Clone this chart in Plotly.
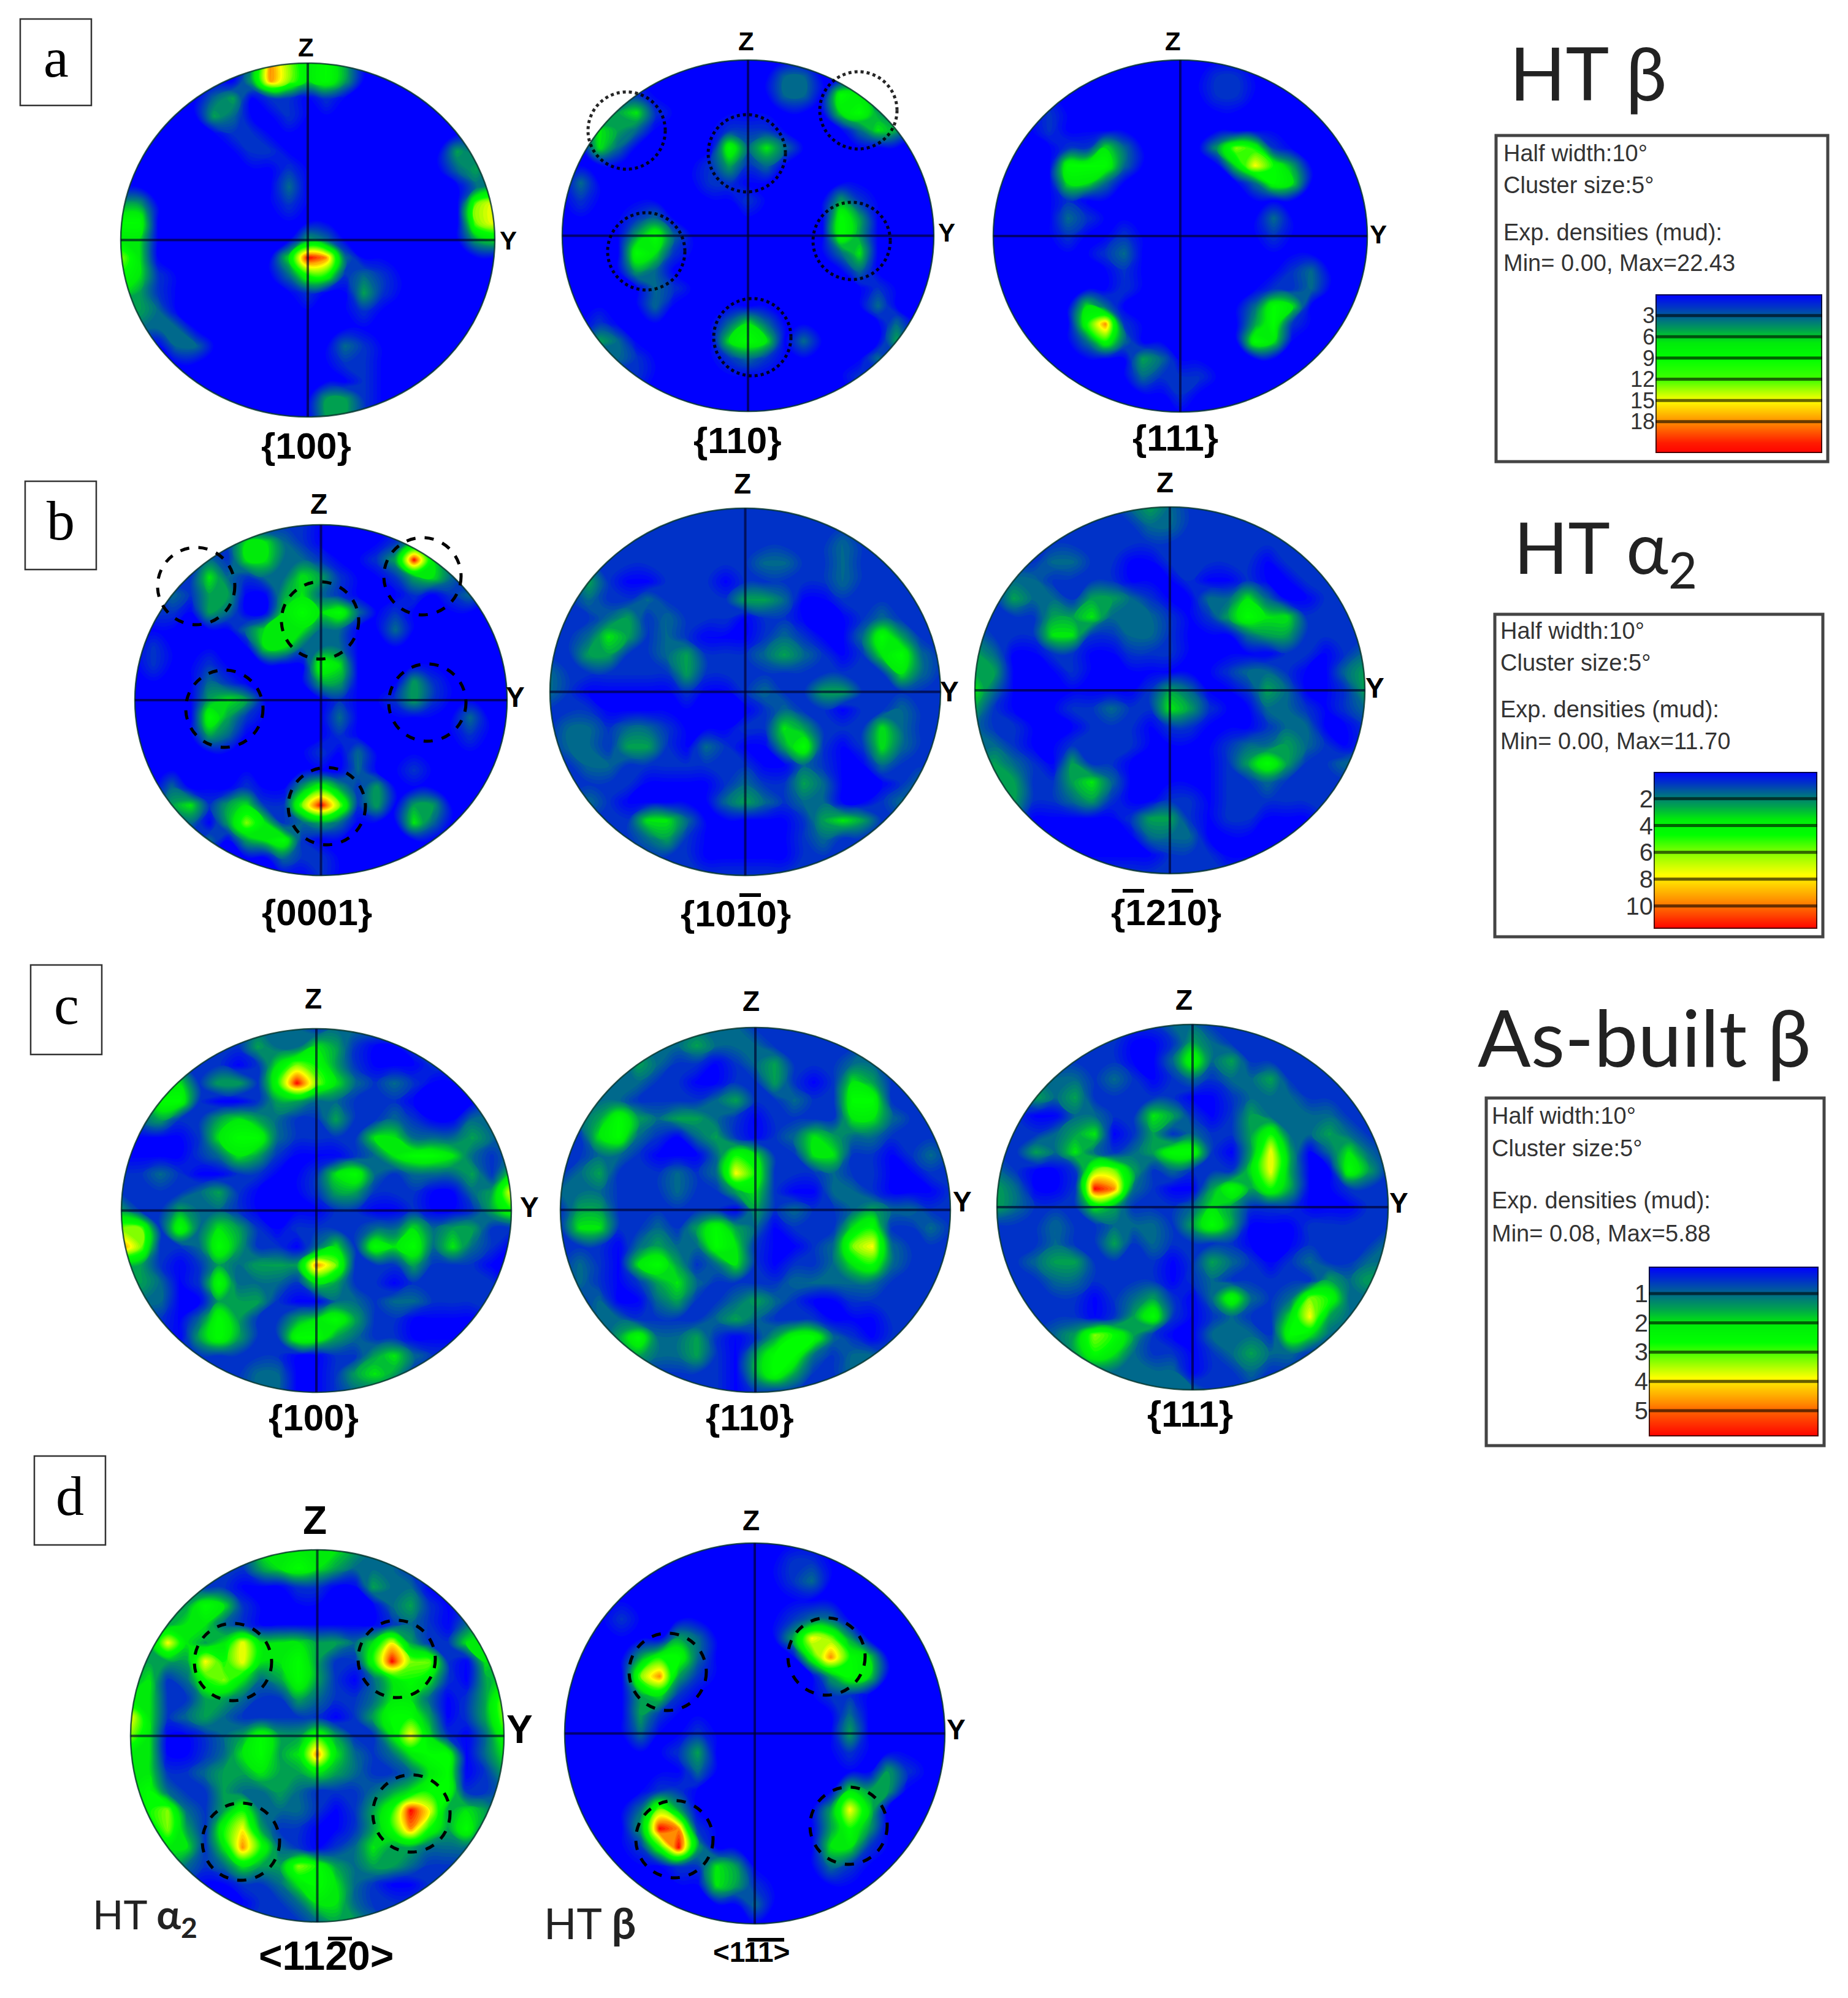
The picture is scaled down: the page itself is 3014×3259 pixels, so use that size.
import math

import plotly.graph_objects as go

# pole figure densities, one digit per grid node,
# on the colour level scale 0 (blue) .. 9 (red), top row first
HT_BETA_100 = [
    "000000028645300000000", "000000038645300000000", "000002301101000000000",
    "000003200100000000000", "000000110000000000000", "000000011000000000320",
    "000000000100000000231", "000000000200000000023", "330000000100000000067",
    "550000000000000000067", "440000000032000000034", "640000000498200000000",
    "541000000255121000000", "431000000010031000000", "032000000000010000000",
    "022200000000000000000", "000220000000210000000", "000000000000110000000",
    "000000000000010000000", "000000000003310000000", "000000000003310000000",
]
HT_BETA_110 = [
    "000000000000000000000", "000000000000220000000", "000010000000220540000",
    "000341000000000453000", "004320000111000024300", "004200000524200000000",
    "000000001312000000000", "020000001100000000000", "010000000010000310000",
    "000012000000000530000", "000035200000000530000", "000054100000000240000",
    "000032000000000020000", "000002100000000001000", "000002000000000002000",
    "001000000242000000200", "003200000454020000300", "000210000121000002000",
    "000010000000000010000", "000000000000000000000", "000000000000000000000",
]
HT_BETA_111 = [
    "000000000000000000000", "000000000000110000000", "000000000000110000000",
    "000100000000000000000", "000100000000000000000", "000011420000365100000",
    "000055520000047530000", "000044200000002540000", "000010000000000000000",
    "000021000000000200000", "000010010000000100000", "000000120000000000000",
    "000000010000000012000", "000000010000000112000", "000004200000002540000",
    "000005810000003510000", "000002520000005400000", "000000003200000000000",
    "000000002111000000000", "000000000010000000000", "000000000000000000000",
]
HT_A2_0001 = [
    "000000001100000000000", "000001442100001310000", "000021442210013941000",
    "000142122431001342000", "002133003421000101200", "011032004545201000000",
    "000000244422002000000", "010000044222000000000", "010010000054000000000",
    "000021000033000310000", "000034300001001310000", "000053100002000000200",
    "000032000001000000100", "000000000010200000000", "000000000000200100000",
    "002000100353130000000", "003413411696130330000", "000203641232000420000",
    "000020345100000000000", "000000002110000000000", "000000000010000000000",
]
HT_A2_1010 = [
    "111111111111111111111", "111111111111111111111", "111111111111111211111",
    "111111111112211211111", "113100111011111211111", "112112111133200111111",
    "111231211101100012111", "112431210001210025311", "113311231112321014521",
    "211111131111111111421", "210000010012113311111", "111000000001211011211",
    "122122100011431114211", "122133102100351014211", "112211111110021002111",
    "111110000121132000121", "112100000232122001211", "111114420000013431111",
    "111112310000012111111", "111111110000011111111", "111111111111111111111",
]
HT_A2_1210 = [
    "111111112321111111111", "111111111221111111111", "111111111111111111111",
    "111122110011111011111", "112211110001001001111", "113221332100224200111",
    "111133422210135441111", "211144112210002331111", "320011001110000011012",
    "330001000000012210023", "420000000132001320013", "310001121143100221012",
    "211000111011000122001", "221001111000012232101", "232103110000013531122",
    "133113420000011211111", "123112310011011111111", "112000001331011000111",
    "111000000222000000111", "111100000011100000111", "111111111111111111111",
]
BUILT_BETA_100 = [
    "111111122212222111111", "111111132243100111111", "111111014653100011111",
    "112413315964212100111", "125510013322111000011", "123113432113112100221",
    "000014552111144222321", "000012431000124554212", "112100110014521222314",
    "111123100013311100237", "311322100001100100135", "661524310111122423311",
    "861125311024154524210", "331013233386111311100", "132015222143110111110",
    "122003331002212211111", "111025311345311000011", "111035311553211000011",
    "111111111001134211111", "111111122001343111111", "111111122001221111111",
]
BUILT_BETA_110 = [
    "111111222211111111111", "111122232221111121111", "111132110123111221111",
    "111221100113101431111", "112211112311211551111", "123532332101111442111",
    "114521023101243221111", "112210002541144110121", "123111212751112110011",
    "222111211341002210001", "133111111031211232211", "144112135320111451121",
    "111023225410012672111", "121045312410112452111", "121013421111222221111",
    "112002311232100111111", "112211112321110001111", "111352231013552101111",
    "111132231035521221111", "111111111035311211111", "111111111011111111111",
]
BUILT_BETA_111 = [
    "111111111221111111111", "111111100132111111111", "111111100252311111111",
    "112221210121223111111", "113231111100122211111", "110022114310132222111",
    "111234013121135223211", "113242123551037302421", "210016631211147300531",
    "320019821003535300111", "321114311124311100011", "111211222135300011111",
    "111211312111100011112", "112331111013210121122", "111221111012111113233",
    "111110123102521265221", "111110135101211473211", "111236531002221542111",
    "111135421101232211111", "111122222201121111111", "111111122221111111111",
]
HT_A2_1120 = [
    "333332144444322222222", "222221134543222111111", "222211000110032200111",
    "222354100000002310122", "223442100000001210232", "237434744433247311442",
    "233375744531159661043", "341256423531024541034", "441133211321124420136",
    "741232111110135530136", "640012353353114741025", "440012453484212455024",
    "441123343343211245013", "452113223211123455112", "256213522210135973431",
    "246315731100135853521", "134414852101243322211", "123212433653233211111",
    "112100112454210011111", "111100011244211122111", "111111111123321111111",
]
HT_BETA_1T1 = [
    "000000000000000000000", "000000000000110000000", "000000000000120000000",
    "000000000000000000000", "000100000000122000000", "000000320000376300000",
    "000035520000058540000", "000068310000003540000", "000034100000001100000",
    "000031000000000200000", "000020010000000300000", "000000130000000100000",
    "000000020000000003100", "000001100000000433000", "000026300000003740000",
    "000039810000003530000", "000015930000004410000", "000000114300002100000",
    "000000004310000000000", "000000000020000000000", "000000000000000000000",
]

# legend contents
LEGEND_LINES = [
    ["Half width:10°", "Cluster size:5°", "Exp. densities (mud):", "Min= 0.00, Max=22.43"],
    ["Half width:10°", "Cluster size:5°", "Exp. densities (mud):", "Min= 0.00, Max=11.70"],
    ["Half width:10°", "Cluster size:5°", "Exp. densities (mud):", "Min= 0.08, Max=5.88"],
]
LEGEND_MAX = [22.43, 11.70, 5.88]
LEGEND_TICKS = [[3, 6, 9, 12, 15, 18], [2, 4, 6, 8, 10], [1, 2, 3, 4, 5]]
LEGEND_STOPS = [
    [0, 3, 6, 9, 12, 15, 18, 21, 22.43],
    [0, 2, 4, 6, 8, 10, 11.7],
    [0.08, 1, 2, 3, 4, 5, 5.88],
]
LEGEND_LEVELS = [
    [0, 1.8, 3.6, 5, 5.5, 7, 8, 8.8, 9],
    [0, 2.5, 4.5, 6, 7.2, 8.2, 9],
    [0, 2, 4, 5.5, 7.2, 8.3, 9],
]

W, H = 3014, 3259
BODY = 8  # browser margin around the plot
NODES = [-1 + 0.1 * i for i in range(21)]
PAD = 1.07

LEVEL_COLOURS = ["rgb(0,0,255)", "rgb(0,50,200)", "rgb(0,105,140)", "rgb(0,160,80)", "rgb(0,235,10)",
                 "rgb(0,255,0)", "rgb(130,255,0)", "rgb(255,255,0)", "rgb(255,140,0)", "rgb(255,0,0)"]
COLORSCALE = [[i / 9, c] for i, c in enumerate(LEVEL_COLOURS)]

# grid, left, right, top, bottom of disc, Z label, Y label, Z/Y size, plane label, its place and size
DISCS = [
    (HT_BETA_100, 197, 807, 103, 680, (499, 77), (829, 392), 42, "{100}", (499, 727), 60),
    (HT_BETA_110, 917, 1523, 98, 671, (1217, 68), (1544, 379), 42, "{110}", (1203, 718), 60),
    (HT_BETA_111, 1620, 2230, 98, 672, (1913, 68), (2248, 383), 42, "{111}", (1917, 714), 60),
    (HT_A2_0001, 220, 827, 856, 1428, (520, 822), (840, 1137), 46, "{0001}", (517, 1488), 60),
    (HT_A2_1010, 897, 1534, 829, 1428, (1211, 789), (1548, 1128), 46, "{1010}", (1200, 1490), 60),
    (HT_A2_1210, 1590, 2226, 827, 1425, (1900, 787), (2242, 1122), 46, "{1210}", (1902, 1488), 60),
    (BUILT_BETA_100, 198, 834, 1678, 2271, (511, 1629), (863, 1969), 46, "{100}", (511, 2312), 60),
    (BUILT_BETA_110, 914, 1550, 1676, 2271, (1225, 1633), (1569, 1960), 46, "{110}", (1223, 2312), 60),
    (BUILT_BETA_111, 1626, 2264, 1671, 2267, (1931, 1631), (2281, 1962), 46, "{111}", (1941, 2306), 60),
    (HT_A2_1120, 213, 822, 2528, 3135, (513, 2480), (847, 2821), 64, "&lt;1120&gt;", (532, 3190), 66),
    (HT_BETA_1T1, 921, 1541, 2517, 3138, (1225, 2480), (1559, 2821), 46, "&lt;111&gt;", (1225, 3184), 46),
]
OVERBARS = [(1206, 1241, 1460), (1831, 1866, 1453), (1911, 1946, 1453), (535, 574, 3162), (1219, 1279, 3164)]

# left, right, top, bottom of box, text x, line ys, bar box, tick size
LEGEND_BOXES = [
    (2440, 2981, 221, 753, 2450, [250, 302, 379, 429], (2700, 2972, 480, 739), 36),
    (2438, 2973, 1002, 1528, 2445, [1029, 1081, 1157, 1209], (2697, 2964, 1259, 1515), 40),
    (2424, 2975, 1791, 2358, 2431, [1820, 1873, 1958, 2012], (2689, 2966, 2066, 2343), 40),
]
PANEL_BOXES = [("a", 33, 149, 31, 172), ("b", 41, 157, 785, 929), ("c", 50, 166, 1574, 1720), ("d", 56, 172, 2375, 2520)]
TITLES = [("HT β", 2590, 118, 120), ("HT α<sub>2</sub>", 2618, 900, 116), ("As-built β", 2682, 1690, 128)]
SIDE_LABELS = [("HT <b>α</b><b><sub>2</sub></b>", 236, 3126, 66), ("HT <b>β</b>", 962, 3136, 70)]

DOTTED = [(1022, 213), (1400, 180), (1218, 250), (1054, 410), (1389, 393), (1227, 550)]
DASHED = [(320, 956), (689, 940), (522, 1012), (366, 1156), (697, 1146), (533, 1315),
          (380, 2711), (647, 2706), (393, 3004), (671, 2958),
          (1089, 2727), (1348, 2702), (1100, 3000), (1384, 2978)]
RING_R = 63


def px(x):
    return (x - BODY) / W


def py(y):
    return 1 - (y - BODY) / H


fig = go.Figure()
shapes, annotations, axes = [], [], {}


def text(s, x, y, size, family="Liberation Sans", color="black", xanchor="center"):
    annotations.append(dict(text=s, x=px(x), y=py(y), xref="paper", yref="paper", showarrow=False,
                            xanchor=xanchor, yanchor="middle", font=dict(size=size, family=family, color=color)))


# white mask around a disc, a square with a round hole
RING = [(math.cos(2 * math.pi * i / 180), math.sin(2 * math.pi * i / 180)) for i in range(180)]
MASK = (f"M{-PAD},{-PAD}L{PAD},{-PAD}L{PAD},{PAD}L{-PAD},{PAD}Z M"
        + "L".join(f"{a:.4f},{b:.4f}" for a, b in RING) + "Z")

for n, (grid, x0, x1, y0, y1, zpos, ypos, axsize, plane, planepos, planesize) in enumerate(DISCS, start=1):
    z = [[int(c) for c in row.ljust(21, "0")[:21]] for row in grid]
    xa, ya = ("x", "y") if n == 1 else (f"x{n}", f"y{n}")
    cx, cy = (x0 + x1) / 2, (y0 + y1) / 2
    rx, ry = (x1 - x0) / 2, (y1 - y0) / 2
    fig.add_trace(go.Contour(z=z, x=NODES, y=NODES[::-1], xaxis=xa, yaxis=ya, zmin=0, zmax=9, colorscale=COLORSCALE,
                             showscale=False, hoverinfo="skip", autocontour=False,
                             contours=dict(start=0.1, end=8.9, size=0.2, coloring="fill"),
                             line=dict(width=0, smoothing=1.3)))
    suffix = "" if n == 1 else str(n)
    axes["xaxis" + suffix] = dict(domain=[px(cx - PAD * rx), px(cx + PAD * rx)], range=[-PAD, PAD], visible=False,
                                  fixedrange=True, anchor=ya)
    axes["yaxis" + suffix] = dict(domain=[py(cy + PAD * ry), py(cy - PAD * ry)], range=[-PAD, PAD], visible=False,
                                  fixedrange=True, anchor=xa)
    shapes.append(dict(type="path", path=MASK, xref=xa, yref=ya, fillcolor="white", fillrule="evenodd",
                       line=dict(width=0), layer="above"))
    shapes.append(dict(type="circle", x0=-1, x1=1, y0=-1, y1=1, xref=xa, yref=ya,
                       line=dict(color="rgba(0,50,40,0.8)", width=2.5), layer="above"))
    shapes.append(dict(type="line", x0=-1, x1=1, y0=0, y1=0, xref=xa, yref=ya,
                       line=dict(color="rgba(0,0,40,0.65)", width=4), layer="above"))
    shapes.append(dict(type="line", x0=0, x1=0, y0=-1, y1=1, xref=xa, yref=ya,
                       line=dict(color="rgba(0,0,40,0.65)", width=4), layer="above"))
    text("<b>Z</b>", zpos[0], zpos[1], axsize)
    text("<b>Y</b>", ypos[0], ypos[1], axsize)
    text(f"<b>{plane}</b>", planepos[0], planepos[1], planesize)

for x0, x1, y in OVERBARS:
    shapes.append(dict(type="line", x0=px(x0), x1=px(x1), y0=py(y), y1=py(y), xref="paper", yref="paper",
                       line=dict(color="black", width=6), layer="above"))

for i, (lines, vmax, ticks, box) in enumerate(zip(LEGEND_LINES, LEGEND_MAX, LEGEND_TICKS, LEGEND_BOXES)):
    left, right, top, bottom, tx, tys, (bx0, bx1, by0, by1), ticksize = box
    shapes.append(dict(type="rect", x0=px(left), x1=px(right), y0=py(top), y1=py(bottom), xref="paper", yref="paper",
                       line=dict(color="#444", width=5), fillcolor="white", layer="below"))
    for line, ty in zip(lines, tys):
        text(line, tx, ty, 38, color="#333", xanchor="left")
    n = len(DISCS) + 1 + i
    xa, ya = f"x{n}", f"y{n}"
    fig.add_trace(go.Heatmap(z=[[s, s] for s in LEGEND_LEVELS[i]], x=[0, 1], y=LEGEND_STOPS[i], xaxis=xa, yaxis=ya,
                             zmin=0, zmax=9, colorscale=COLORSCALE, showscale=False, zsmooth="best", hoverinfo="skip"))
    axes[f"xaxis{n}"] = dict(domain=[px(bx0), px(bx1)], range=[0, 1], visible=False, fixedrange=True, anchor=ya)
    axes[f"yaxis{n}"] = dict(domain=[py(by1), py(by0)], range=[vmax, LEGEND_STOPS[i][0]], fixedrange=True, anchor=xa,
                             tickvals=ticks, ticktext=[str(t) for t in ticks], ticks="", showgrid=False,
                             zeroline=False, showline=False,
                             tickfont=dict(size=ticksize, family="Liberation Sans", color="#333"))
    for t in ticks:
        shapes.append(dict(type="line", x0=0, x1=1, y0=t, y1=t, xref=xa, yref=ya,
                           line=dict(color="rgba(0,0,0,0.6)", width=5), layer="above"))
    shapes.append(dict(type="rect", x0=0, x1=1, y0=LEGEND_STOPS[i][0], y1=vmax, xref=xa, yref=ya,
                       line=dict(color="rgba(0,0,0,0.7)", width=4), layer="above"))

for letter, x0, x1, y0, y1 in PANEL_BOXES:
    shapes.append(dict(type="rect", x0=px(x0), x1=px(x1), y0=py(y0), y1=py(y1), xref="paper", yref="paper",
                       line=dict(color="#333", width=2.5), layer="below"))
    text(letter, (x0 + x1) / 2, (y0 + y1) / 2 - 8, 92, family="Liberation Serif")

for s, x, y, size in TITLES + SIDE_LABELS:
    text(s, x, y, size, family="Lato", color="#222")

for (x, y) in DOTTED:
    shapes.append(dict(type="circle", x0=px(x - RING_R), x1=px(x + RING_R), y0=py(y + RING_R), y1=py(y - RING_R),
                       xref="paper", yref="paper", line=dict(color="rgba(0,0,0,0.85)", width=5, dash="dot"), layer="above"))
for (x, y) in DASHED:
    shapes.append(dict(type="circle", x0=px(x - RING_R), x1=px(x + RING_R), y0=py(y + RING_R), y1=py(y - RING_R),
                       xref="paper", yref="paper", line=dict(color="black", width=5, dash="dash"), layer="above"))

fig.update_layout(width=W, height=H, margin=dict(l=0, r=0, t=0, b=0), paper_bgcolor="white", plot_bgcolor="white",
                  shapes=shapes, annotations=annotations, showlegend=False, **axes)
fig.write_html("out.html")
